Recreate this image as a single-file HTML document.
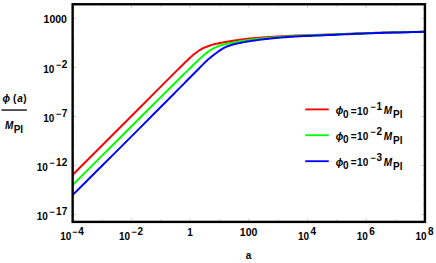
<!DOCTYPE html>
<html><head><meta charset="utf-8"><title>plot</title><style>
html,body{margin:0;padding:0;background:#fff;overflow:hidden;}
svg{display:block;}
</style></head><body>
<svg width="436" height="263" viewBox="0 0 436 263">
<rect width="436" height="263" fill="#fff"/>
<clipPath id="c"><rect x="72.5" y="4" width="352" height="217.5"/></clipPath>
<g clip-path="url(#c)" fill="none" stroke-width="2.0" stroke-linejoin="round">
<path d="M72.50,175.00 L82.50,165.00 L92.50,155.00 L102.50,144.99 L112.50,134.98 L122.50,124.97 L132.50,114.95 L142.50,104.93 L152.50,94.91 L162.50,84.89 L170.00,77.38 L171.00,76.38 L172.00,75.39 L173.00,74.39 L174.00,73.39 L175.00,72.39 L176.00,71.40 L177.00,70.40 L178.00,69.41 L179.00,68.42 L180.00,67.43 L181.00,66.44 L182.00,65.45 L183.00,64.47 L184.00,63.50 L185.00,62.53 L186.00,61.56 L187.00,60.60 L188.00,59.65 L189.00,58.71 L190.00,57.78 L191.00,56.87 L192.00,55.98 L193.00,55.11 L194.00,54.27 L195.00,53.46 L196.00,52.68 L197.00,51.93 L198.00,51.21 L199.00,50.53 L200.00,49.88 L201.00,49.28 L202.00,48.73 L203.00,48.24 L204.00,47.78 L205.00,47.36 L206.00,46.97 L207.00,46.58 L208.00,46.20 L209.00,45.84 L210.00,45.49 L211.00,45.18 L212.00,44.88 L213.00,44.60 L214.00,44.34 L215.00,44.09 L216.00,43.86 L217.00,43.63 L218.00,43.42 L219.00,43.21 L220.00,43.02 L221.00,42.83 L222.00,42.64 L223.00,42.45 L224.00,42.27 L225.00,42.09 L226.00,41.91 L227.00,41.73 L228.00,41.56 L229.00,41.39 L230.00,41.23 L231.00,41.06 L232.00,40.91 L233.00,40.76 L234.00,40.60 L235.00,40.45 L236.00,40.30 L237.00,40.15 L238.00,40.00 L239.00,39.85 L240.00,39.71 L241.00,39.57 L242.00,39.43 L243.00,39.30 L244.00,39.17 L245.00,39.04 L246.00,38.92 L247.00,38.81 L248.00,38.70 L249.00,38.59 L250.00,38.49 L251.00,38.40 L252.00,38.31 L253.00,38.22 L254.00,38.13 L255.00,38.05 L256.00,37.97 L257.00,37.89 L258.00,37.81 L259.00,37.73 L260.00,37.66 L261.00,37.58 L262.00,37.51 L263.00,37.44 L264.00,37.37 L265.00,37.30 L266.00,37.24 L267.00,37.17 L268.00,37.11 L269.00,37.05 L270.00,36.98 L271.00,36.92 L272.00,36.86 L273.00,36.80 L274.00,36.74 L275.00,36.68 L276.00,36.62 L277.00,36.56 L278.00,36.50 L279.00,36.45 L280.00,36.39 L281.00,36.33 L282.00,36.27 L283.00,36.21 L284.00,36.16 L285.00,36.10 L286.00,36.05 L287.00,36.00 L288.00,35.94 L289.00,35.89 L290.00,35.84 L291.00,35.79 L292.00,35.74 L293.00,35.70 L294.00,35.65 L295.00,35.61 L296.00,35.57 L297.00,35.53 L298.00,35.49 L299.00,35.45 L300.00,35.42 L304.00,35.28 L308.00,35.16 L312.00,35.05 L316.00,34.91 L320.00,34.78 L324.00,34.65 L328.00,34.53 L332.00,34.39 L336.00,34.24 L340.00,34.08 L344.00,33.92 L348.00,33.77 L352.00,33.63 L356.00,33.49 L360.00,33.35 L364.00,33.21 L368.00,33.07 L372.00,32.94 L376.00,32.82 L380.00,32.72 L384.00,32.62 L388.00,32.53 L392.00,32.44 L396.00,32.35 L400.00,32.26 L404.00,32.16 L408.00,32.07 L412.00,31.98 L416.00,31.89 L420.00,31.80 L424.00,31.71 L424.50,31.69" stroke="#ff0000"/>
<path d="M72.50,185.08 L82.50,175.09 L92.50,165.11 L102.50,155.14 L112.50,145.17 L122.50,135.20 L132.50,125.24 L142.50,115.28 L152.50,105.33 L162.50,95.39 L170.00,87.95 L171.00,86.96 L172.00,85.96 L173.00,84.97 L174.00,83.98 L175.00,82.99 L176.00,82.00 L177.00,81.01 L178.00,80.02 L179.00,79.03 L180.00,78.04 L181.00,77.05 L182.00,76.06 L183.00,75.07 L184.00,74.08 L185.00,73.09 L186.00,72.11 L187.00,71.12 L188.00,70.14 L189.00,69.15 L190.00,68.17 L191.00,67.20 L192.00,66.22 L193.00,65.25 L194.00,64.28 L195.00,63.32 L196.00,62.36 L197.00,61.41 L198.00,60.47 L199.00,59.54 L200.00,58.62 L201.00,57.71 L202.00,56.82 L203.00,55.94 L204.00,55.09 L205.00,54.25 L206.00,53.44 L207.00,52.66 L208.00,51.90 L209.00,51.18 L210.00,50.49 L211.00,49.84 L212.00,49.23 L213.00,48.65 L214.00,48.12 L215.00,47.62 L216.00,47.15 L217.00,46.72 L218.00,46.33 L219.00,45.96 L220.00,45.62 L221.00,45.30 L222.00,45.00 L223.00,44.72 L224.00,44.46 L225.00,44.21 L226.00,43.98 L227.00,43.76 L228.00,43.55 L229.00,43.35 L230.00,43.16 L231.00,42.98 L232.00,42.80 L233.00,42.62 L234.00,42.44 L235.00,42.26 L236.00,42.08 L237.00,41.89 L238.00,41.71 L239.00,41.52 L240.00,41.34 L241.00,41.16 L242.00,40.98 L243.00,40.80 L244.00,40.63 L245.00,40.47 L246.00,40.31 L247.00,40.15 L248.00,40.01 L249.00,39.87 L250.00,39.75 L251.00,39.63 L252.00,39.51 L253.00,39.40 L254.00,39.29 L255.00,39.18 L256.00,39.07 L257.00,38.96 L258.00,38.86 L259.00,38.76 L260.00,38.66 L261.00,38.56 L262.00,38.47 L263.00,38.37 L264.00,38.28 L265.00,38.19 L266.00,38.10 L267.00,38.01 L268.00,37.92 L269.00,37.84 L270.00,37.75 L271.00,37.67 L272.00,37.59 L273.00,37.51 L274.00,37.43 L275.00,37.35 L276.00,37.28 L277.00,37.20 L278.00,37.13 L279.00,37.05 L280.00,36.98 L281.00,36.91 L282.00,36.84 L283.00,36.78 L284.00,36.71 L285.00,36.64 L286.00,36.58 L287.00,36.51 L288.00,36.45 L289.00,36.38 L290.00,36.32 L291.00,36.26 L292.00,36.20 L293.00,36.14 L294.00,36.08 L295.00,36.02 L296.00,35.97 L297.00,35.92 L298.00,35.87 L299.00,35.82 L300.00,35.77 L304.00,35.60 L308.00,35.44 L312.00,35.30 L316.00,35.15 L320.00,35.00 L324.00,34.85 L328.00,34.72 L332.00,34.57 L336.00,34.40 L340.00,34.24 L344.00,34.07 L348.00,33.91 L352.00,33.76 L356.00,33.61 L360.00,33.46 L364.00,33.32 L368.00,33.18 L372.00,33.04 L376.00,32.92 L380.00,32.81 L384.00,32.70 L388.00,32.61 L392.00,32.52 L396.00,32.42 L400.00,32.33 L404.00,32.23 L408.00,32.14 L412.00,32.04 L416.00,31.95 L420.00,31.85 L424.00,31.76 L424.50,31.75" stroke="#00ff00"/>
<path d="M72.50,195.09 L82.50,185.18 L92.50,175.25 L102.50,165.30 L112.50,155.34 L122.50,145.36 L132.50,135.36 L142.50,125.34 L152.50,115.31 L162.50,105.26 L170.00,97.71 L171.00,96.70 L172.00,95.69 L173.00,94.69 L174.00,93.68 L175.00,92.67 L176.00,91.66 L177.00,90.65 L178.00,89.64 L179.00,88.63 L180.00,87.62 L181.00,86.62 L182.00,85.61 L183.00,84.60 L184.00,83.59 L185.00,82.58 L186.00,81.57 L187.00,80.56 L188.00,79.55 L189.00,78.54 L190.00,77.53 L191.00,76.52 L192.00,75.51 L193.00,74.50 L194.00,73.49 L195.00,72.49 L196.00,71.48 L197.00,70.46 L198.00,69.45 L199.00,68.43 L200.00,67.42 L201.00,66.40 L202.00,65.39 L203.00,64.38 L204.00,63.38 L205.00,62.39 L206.00,61.40 L207.00,60.46 L208.00,59.58 L209.00,58.75 L210.00,57.93 L211.00,57.12 L212.00,56.32 L213.00,55.55 L214.00,54.80 L215.00,54.04 L216.00,53.27 L217.00,52.49 L218.00,51.74 L219.00,51.01 L220.00,50.32 L221.00,49.66 L222.00,49.04 L223.00,48.46 L224.00,47.92 L225.00,47.41 L226.00,46.95 L227.00,46.52 L228.00,46.13 L229.00,45.77 L230.00,45.43 L231.00,45.12 L232.00,44.83 L233.00,44.56 L234.00,44.30 L235.00,44.06 L236.00,43.82 L237.00,43.58 L238.00,43.36 L239.00,43.14 L240.00,42.93 L241.00,42.73 L242.00,42.53 L243.00,42.33 L244.00,42.14 L245.00,41.96 L246.00,41.78 L247.00,41.60 L248.00,41.43 L249.00,41.27 L250.00,41.12 L251.00,40.97 L252.00,40.82 L253.00,40.67 L254.00,40.53 L255.00,40.39 L256.00,40.26 L257.00,40.12 L258.00,39.99 L259.00,39.86 L260.00,39.73 L261.00,39.60 L262.00,39.48 L263.00,39.36 L264.00,39.24 L265.00,39.12 L266.00,39.01 L267.00,38.90 L268.00,38.78 L269.00,38.67 L270.00,38.56 L271.00,38.45 L272.00,38.34 L273.00,38.24 L274.00,38.14 L275.00,38.04 L276.00,37.94 L277.00,37.85 L278.00,37.76 L279.00,37.68 L280.00,37.60 L281.00,37.52 L282.00,37.44 L283.00,37.36 L284.00,37.29 L285.00,37.21 L286.00,37.14 L287.00,37.07 L288.00,37.00 L289.00,36.92 L290.00,36.85 L291.00,36.79 L292.00,36.72 L293.00,36.65 L294.00,36.59 L295.00,36.53 L296.00,36.47 L297.00,36.41 L298.00,36.36 L299.00,36.31 L300.00,36.26 L304.00,36.07 L308.00,35.91 L312.00,35.76 L316.00,35.59 L320.00,35.41 L324.00,35.24 L328.00,35.08 L332.00,34.90 L336.00,34.71 L340.00,34.51 L344.00,34.32 L348.00,34.14 L352.00,33.97 L356.00,33.81 L360.00,33.65 L364.00,33.49 L368.00,33.33 L372.00,33.19 L376.00,33.05 L380.00,32.93 L384.00,32.82 L388.00,32.71 L392.00,32.61 L396.00,32.51 L400.00,32.41 L404.00,32.30 L408.00,32.20 L412.00,32.10 L416.00,32.01 L420.00,31.91 L424.00,31.81 L424.50,31.80" stroke="#0000ff"/>
</g>
<path d="M72.65,221.9v-3.6M72.65,4.25v3.6M102.01,221.9v-2.6M102.01,4.25v2.6M131.36,221.9v-3.6M131.36,4.25v3.6M160.72,221.9v-2.6M160.72,4.25v2.6M190.08,221.9v-3.6M190.08,4.25v3.6M219.43,221.9v-2.6M219.43,4.25v2.6M248.79,221.9v-3.6M248.79,4.25v3.6M278.15,221.9v-2.6M278.15,4.25v2.6M307.50,221.9v-3.6M307.50,4.25v3.6M336.86,221.9v-2.6M336.86,4.25v2.6M366.22,221.9v-3.6M366.22,4.25v3.6M395.57,221.9v-2.6M395.57,4.25v2.6M424.93,221.9v-3.6M424.93,4.25v3.6M72.65,8.59h2.2M424.93,8.59h-2.2M72.65,18.40h3.6M424.93,18.40h-3.6M72.65,28.21h2.2M424.93,28.21h-2.2M72.65,38.02h2.2M424.93,38.02h-2.2M72.65,47.83h2.2M424.93,47.83h-2.2M72.65,57.64h2.2M424.93,57.64h-2.2M72.65,67.45h3.6M424.93,67.45h-3.6M72.65,77.26h2.2M424.93,77.26h-2.2M72.65,87.07h2.2M424.93,87.07h-2.2M72.65,96.88h2.2M424.93,96.88h-2.2M72.65,106.69h2.2M424.93,106.69h-2.2M72.65,116.50h3.6M424.93,116.50h-3.6M72.65,126.31h2.2M424.93,126.31h-2.2M72.65,136.12h2.2M424.93,136.12h-2.2M72.65,145.93h2.2M424.93,145.93h-2.2M72.65,155.74h2.2M424.93,155.74h-2.2M72.65,165.55h3.6M424.93,165.55h-3.6M72.65,175.36h2.2M424.93,175.36h-2.2M72.65,185.17h2.2M424.93,185.17h-2.2M72.65,194.98h2.2M424.93,194.98h-2.2M72.65,204.79h2.2M424.93,204.79h-2.2M72.65,214.60h3.6M424.93,214.60h-3.6" stroke="#666" stroke-width="0.3" fill="none"/>
<rect x="72.65" y="4.25" width="352.28" height="217.65" fill="none" stroke="#000" stroke-width="2.4"/>
<rect x="1.4" y="109.4" width="25.5" height="1.3" fill="#000"/>
<g stroke-width="1.85">
<line x1="305.25" x2="328.75" y1="109.4" y2="109.4" stroke="#ff0000"/>
<line x1="305.25" x2="328.75" y1="135.2" y2="135.2" stroke="#00ff00"/>
<line x1="305.25" x2="328.75" y1="161.2" y2="161.2" stroke="#0000ff"/>
</g>
<g fill="#000" font-family="'Liberation Sans', 'DejaVu Sans', sans-serif" font-weight="bold" font-size="10">
<text x="43.6" y="22.8" font-size="10.5">1000</text>
<text><tspan x="43.3" y="73.4">10</tspan><tspan x="55.9" y="68.35" font-size="9">−</tspan><tspan x="61.8" y="68.35">2</tspan></text>
<text><tspan x="43.3" y="122.4">10</tspan><tspan x="55.9" y="117.35" font-size="9">−</tspan><tspan x="61.8" y="117.35">7</tspan></text>
<text><tspan x="36.7" y="171.3">10</tspan><tspan x="49.6" y="166.25" font-size="9">−</tspan><tspan x="56.1" y="166.25">12</tspan></text>
<text><tspan x="36.7" y="220.4">10</tspan><tspan x="49.6" y="215.35" font-size="9">−</tspan><tspan x="56.1" y="215.35">17</tspan></text>
<text><tspan x="60.2" y="239.8">10</tspan><tspan x="72.3" y="234.75" font-size="9">−</tspan><tspan x="78.3" y="234.75">4</tspan></text>
<text><tspan x="119" y="239.85">10</tspan><tspan x="131.5" y="234.8" font-size="9">−</tspan><tspan x="137.5" y="234.8">2</tspan></text>
<text x="190.08" y="235.95" text-anchor="middle">1</text>
<text x="248.6" y="235.95" text-anchor="middle" font-size="10.5">100</text>
<text><tspan x="298" y="239.8">10</tspan><tspan x="310.4" y="234.75">4</tspan></text>
<text><tspan x="356.8" y="239.8">10</tspan><tspan x="369.2" y="234.75">6</tspan></text>
<text><tspan x="415.5" y="239.8">10</tspan><tspan x="427.9" y="234.75">8</tspan></text>
<text x="248.6" y="259" text-anchor="middle">a</text>
<text><tspan x="2.4" y="101.5" font-style="italic">ϕ</tspan><tspan x="13" y="101.5">(</tspan><tspan x="17.3" y="101.5" font-style="italic">a</tspan><tspan x="23.2" y="101.5">)</tspan></text>
<text><tspan x="4.9" y="129.1" font-style="italic">M</tspan><tspan x="13.7" y="132.8">Pl</tspan></text>
<text><tspan x="335.8" y="114.4" font-style="italic">ϕ</tspan><tspan x="343.1" y="117.6">0</tspan><tspan x="350.8" y="114.6">=</tspan><tspan x="357.1" y="114.6">10</tspan><tspan x="370.4" y="109.55" font-size="9">−</tspan><tspan x="376.5" y="109.55">1</tspan><tspan x="383.8" y="114.4" font-style="italic">M</tspan><tspan x="393" y="118.1">Pl</tspan></text>
<text><tspan x="335.8" y="140.15" font-style="italic">ϕ</tspan><tspan x="343.1" y="143.35">0</tspan><tspan x="350.8" y="140.35">=</tspan><tspan x="357.1" y="140.35">10</tspan><tspan x="370.4" y="135.3" font-size="9">−</tspan><tspan x="376.5" y="135.3">2</tspan><tspan x="383.8" y="140.15" font-style="italic">M</tspan><tspan x="393" y="143.85">Pl</tspan></text>
<text><tspan x="335.8" y="166.2" font-style="italic">ϕ</tspan><tspan x="343.1" y="169.4">0</tspan><tspan x="350.8" y="166.4">=</tspan><tspan x="357.1" y="166.4">10</tspan><tspan x="370.4" y="161.35" font-size="9">−</tspan><tspan x="376.5" y="161.35">3</tspan><tspan x="383.8" y="166.2" font-style="italic">M</tspan><tspan x="393" y="169.9">Pl</tspan></text>
</g>
</svg></body></html>
